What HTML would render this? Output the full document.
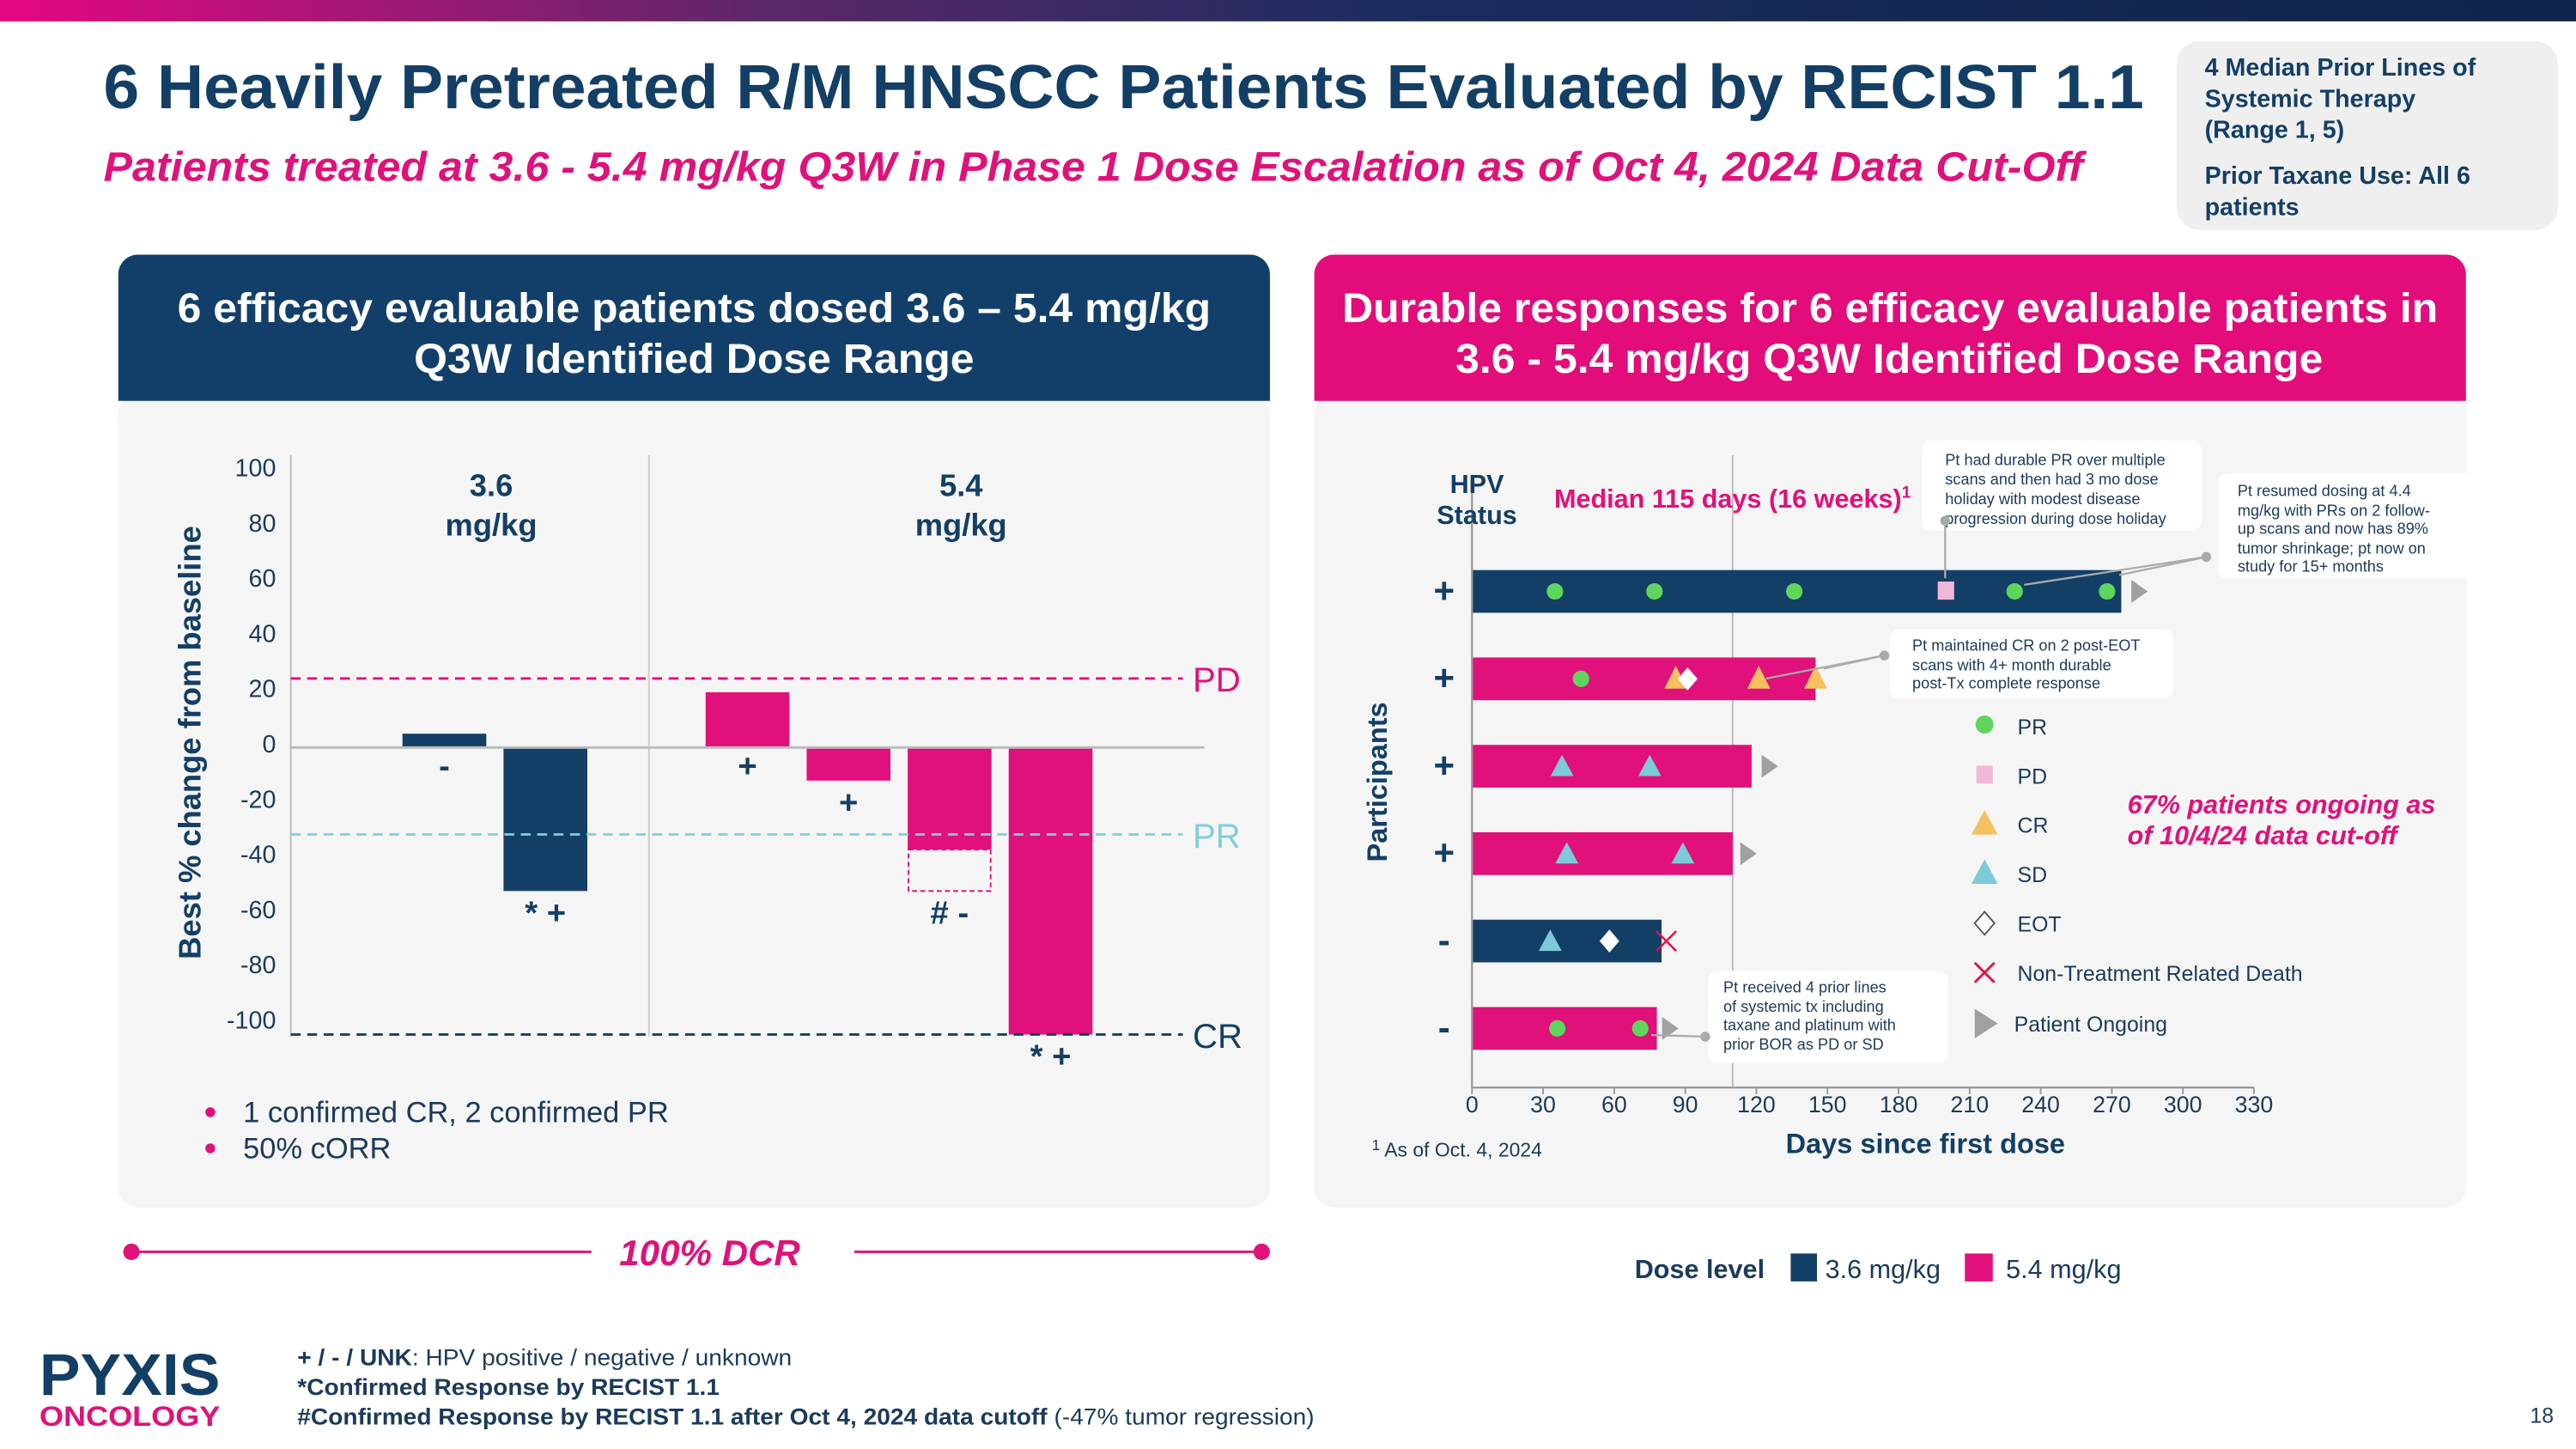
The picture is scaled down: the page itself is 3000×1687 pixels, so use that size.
<!DOCTYPE html>
<html><head><meta charset="utf-8"><style>
html,body{margin:0;padding:0;background:#fff;width:3000px;height:1687px;overflow:hidden}
svg{display:block}
text{font-family:"Liberation Sans",Arial,sans-serif}
</style></head><body>
<svg id="page" width="3000" height="1687" viewBox="0 0 1568 882" preserveAspectRatio="none" xmlns="http://www.w3.org/2000/svg">
<defs>
<linearGradient id="band" x1="0" x2="1" y1="0" y2="0"><stop offset="0" stop-color="#e5087e"/><stop offset="0.3" stop-color="#5a2868"/><stop offset="0.55" stop-color="#1a2c5e"/><stop offset="1" stop-color="#0e2448"/></linearGradient>
</defs>
<rect x="0" y="0" width="1568" height="13" fill="url(#band)"/>
<text x="63" y="66" font-size="38" font-weight="bold" fill="#133f66" textLength="1242" lengthAdjust="spacingAndGlyphs">6 Heavily Pretreated R/M HNSCC Patients Evaluated by RECIST 1.1</text>
<text x="63" y="110" font-size="25" font-weight="bold" font-style="italic" fill="#e0117a" textLength="1205" lengthAdjust="spacingAndGlyphs">Patients treated at 3.6 - 5.4 mg/kg Q3W in Phase 1 Dose Escalation as of Oct 4, 2024 Data Cut-Off</text>
<g>
<rect x="1325" y="25" width="232" height="115" rx="14" fill="#efefef"/>
<g font-size="15" font-weight="bold" fill="#133f66">
<text x="1342" y="46">4 Median Prior Lines of</text>
<text x="1342" y="65">Systemic Therapy</text>
<text x="1342" y="84">(Range 1, 5)</text>
<text x="1342" y="112">Prior Taxane Use: All 6</text>
<text x="1342" y="131">patients</text>
</g></g>

<!-- Left panel -->
<g>
<rect x="72" y="240" width="701" height="495" rx="12" fill="#f5f5f5"/>
<path d="M72,244 V167 a12,12 0 0 1 12,-12 H761 a12,12 0 0 1 12,12 V244 Z" fill="#123f6a"/>
<text x="108" y="196" font-size="25" font-weight="bold" fill="#fff" textLength="629" lengthAdjust="spacingAndGlyphs">6 efficacy evaluable patients dosed 3.6 – 5.4 mg/kg</text>
<text x="252" y="227" font-size="25" font-weight="bold" fill="#fff" textLength="341" lengthAdjust="spacingAndGlyphs">Q3W Identified Dose Range</text>
</g>
<g id="wf"></g>
<g font-size="18" fill="#1b3a5c">
<circle cx="128" cy="677" r="3" fill="#e0117a"/><text x="148" y="683">1 confirmed CR, 2 confirmed PR</text>
<circle cx="128" cy="699" r="3" fill="#e0117a"/><text x="148" y="705">50% cORR</text>
</g>
<g>
<line x1="80" y1="762" x2="360" y2="762" stroke="#e0117a" stroke-width="1.5"/>
<line x1="520" y1="762" x2="768" y2="762" stroke="#e0117a" stroke-width="1.5"/>
<circle cx="80" cy="762" r="5" fill="#e0117a"/><circle cx="768" cy="762" r="5" fill="#e0117a"/>
<text x="432" y="770" font-size="22" font-weight="bold" font-style="italic" fill="#e0117a" text-anchor="middle">100% DCR</text>
</g>

<!-- Right panel -->
<g>
<rect x="800" y="240" width="701" height="495" rx="12" fill="#f5f5f5"/>
<path d="M800,244 V167 a12,12 0 0 1 12,-12 H1489 a12,12 0 0 1 12,12 V244 Z" fill="#e20c7a"/>
<text x="817" y="196" font-size="25" font-weight="bold" fill="#fff" textLength="667" lengthAdjust="spacingAndGlyphs">Durable responses for 6 efficacy evaluable patients in</text>
<text x="886" y="227" font-size="25" font-weight="bold" fill="#fff" textLength="528" lengthAdjust="spacingAndGlyphs">3.6 - 5.4 mg/kg Q3W Identified Dose Range</text>
</g>
<g id="sw"></g>
<g font-size="9.5" fill="#1b3a5c">
<rect x="1170" y="268" width="170" height="55" rx="6" fill="#fff"/>
<text x="1184" y="283">Pt had durable PR over multiple</text><text x="1184" y="295">scans and then had 3 mo dose</text><text x="1184" y="307">holiday with modest disease</text><text x="1184" y="319">progression during dose holiday</text>
<line x1="1184" y1="317" x2="1184" y2="352" stroke="#aaa" stroke-width="1.2"/><circle cx="1184" cy="317" r="3" fill="#aaa"/>
<rect x="1350" y="288" width="218" height="64" rx="6" fill="#fff"/>
<text x="1362" y="302">Pt resumed dosing at 4.4</text><text x="1362" y="314">mg/kg with PRs on 2 follow-</text><text x="1362" y="325">up scans and now has 89%</text><text x="1362" y="337">tumor shrinkage; pt now on</text><text x="1362" y="348">study for 15+ months</text>
<line x1="1343" y1="339" x2="1232" y2="356" stroke="#aaa" stroke-width="1.2"/><line x1="1343" y1="339" x2="1290" y2="350" stroke="#aaa" stroke-width="1.2"/><circle cx="1343" cy="339" r="3" fill="#aaa"/>
<rect x="1150" y="383" width="173" height="42" rx="6" fill="#fff"/>
<text x="1164" y="396">Pt maintained CR on 2 post-EOT</text><text x="1164" y="408">scans with 4+ month durable</text><text x="1164" y="419">post-Tx complete response</text>
<line x1="1147" y1="399" x2="1075" y2="413" stroke="#aaa" stroke-width="1.2"/><line x1="1147" y1="399" x2="1110" y2="407" stroke="#aaa" stroke-width="1.2"/><circle cx="1147" cy="399" r="3" fill="#aaa"/>
<rect x="1040" y="591" width="146" height="56" rx="6" fill="#fff"/>
<text x="1049" y="604">Pt received 4 prior lines</text><text x="1049" y="616">of systemic tx including</text><text x="1049" y="627">taxane and platinum with</text><text x="1049" y="639">prior BOR as PD or SD</text>
<line x1="1038" y1="631" x2="1005" y2="630" stroke="#aaa" stroke-width="1.2"/><circle cx="1038" cy="631" r="3" fill="#aaa"/>
</g>
<g font-size="13" fill="#1b3a5c">
<circle cx="1208" cy="441" r="5.5" fill="#5ed65e"/><text x="1228" y="447">PR</text>
<rect x="1203" y="466" width="10" height="11" fill="#f0b8d8"/><text x="1228" y="477">PD</text>
<path d="M1208,493 L1216,508 L1200,508 Z" fill="#f4c060"/><text x="1228" y="507">CR</text>
<path d="M1208,523 L1216,538 L1200,538 Z" fill="#7ccbd8"/><text x="1228" y="537">SD</text>
<path d="M1208,555 L1214,562 L1208,569 L1202,562 Z" fill="#fff" stroke="#555" stroke-width="1"/><text x="1228" y="567">EOT</text>
<path d="M1202,586 L1214,598 M1214,586 L1202,598" stroke="#e0114a" stroke-width="1.5"/><text x="1228" y="597">Non-Treatment Related Death</text>
<path d="M1202,614 L1216,623 L1202,632 Z" fill="#a0a0a0"/><text x="1226" y="628">Patient Ongoing</text>
</g>
<g font-size="16" font-weight="bold" font-style="italic" fill="#e0117a">
<text x="1295" y="495">67% patients ongoing as</text><text x="1295" y="514">of 10/4/24 data cut-off</text>
</g>
<text x="835" y="704" font-size="12" fill="#1b3a5c"><tspan font-size="9" dy="-4">1</tspan><tspan dy="4"> As of Oct. 4, 2024</tspan></text>
<g font-size="16" fill="#1b3a5c">
<text x="995" y="778" font-weight="bold">Dose level</text>
<rect x="1090" y="763" width="16" height="17" fill="#133f66"/><text x="1111" y="778">3.6 mg/kg</text>
<rect x="1196" y="763" width="17" height="17" fill="#e0117a"/><text x="1221" y="778">5.4 mg/kg</text>
</g>
<g>
<text x="24" y="849" font-size="36" font-weight="bold" fill="#133f66" textLength="110" lengthAdjust="spacingAndGlyphs">PYXIS</text>
<text x="24" y="868" font-size="17" font-weight="bold" fill="#e0117a" textLength="110" lengthAdjust="spacingAndGlyphs">ONCOLOGY</text>
</g>
<g font-size="14" fill="#1b3a5c">
<text x="181" y="831" textLength="301" lengthAdjust="spacingAndGlyphs"><tspan font-weight="bold">+ / - / UNK</tspan>: HPV positive / negative / unknown</text>
<text x="181" y="849" font-weight="bold" textLength="257" lengthAdjust="spacingAndGlyphs">*Confirmed Response by RECIST 1.1</text>
<text x="181" y="867" textLength="619" lengthAdjust="spacingAndGlyphs"><tspan font-weight="bold">#Confirmed Response by RECIST 1.1 after Oct 4, 2024 data cutoff</tspan> (-47% tumor regression)</text>
</g>
<text x="1540" y="866" font-size="13" fill="#1b3a5c">18</text>
</svg>
<script>
// ---- Waterfall data ----
const wfSlots = [0, 1, 3, 4, 5, 6];
const wfValues = [5, -52, 20, -12, -37, -104];
const wfPost = [null, null, null, null, -52, null];
const wfDose = ['3.6', '3.6', '5.4', '5.4', '5.4', '5.4'];
const wfMarks = ['-', '* +', '+', '+', '# -', '* +'];
const wfTicks = [100, 80, 60, 40, 20, 0, -20, -40, -60, -80, -100];
const wfThreshVals = [25, -31.5, -104];
const wfThreshLabels = ['PD', 'PR', 'CR'];

// ---- Swimmer data ----
const swDuration = [274, 145, 118, 110, 80, 78];
const swDose = ['3.6', '5.4', '5.4', '5.4', '3.6', '5.4'];
const swHPV = ['+', '+', '+', '+', '-', '-'];
const swPR = [[35, 77, 136, 229, 268], [46], [], [], [], [36, 71]];
const swPD = [[200], [], [], [], [], []];
const swCR = [[], [86, 121, 145], [], [], [], []];
const swSD = [[], [], [38, 75], [40, 89], [33], []];
const swEOT = [[], [91], [], [], [58], []];
const swDeath = [[], [], [], [], [82], []];
const swOngoing = [[281], [], [125], [116], [], [83]];
const swTicks = [0, 30, 60, 90, 120, 150, 180, 210, 240, 270, 300, 330];
const swMedian = [110];

const NS = 'http://www.w3.org/2000/svg';
const NAVY = '#133f66', PINK = '#e0117a';
function mk(parent, tag, attrs, txt) {
  const e = document.createElementNS(NS, tag);
  for (const k in attrs) e.setAttribute(k, attrs[k]);
  if (txt !== undefined) e.textContent = txt;
  parent.appendChild(e);
  return e;
}
// Waterfall axes
const wf = document.getElementById('wf');
const wy = v => 455 - v * 1.68;
const wx = s => 245 + s * 61.5;
const barW = 51;
mk(wf, 'line', {x1: 177, y1: 277, x2: 177, y2: 631, stroke: '#bbb', 'stroke-width': 1});
mk(wf, 'line', {x1: 395, y1: 277, x2: 395, y2: 631, stroke: '#ccc', 'stroke-width': 1});
wfTicks.forEach(t => {
  const e = mk(wf, 'text', {x: 168, y: wy(t) + 3, 'font-size': 15, fill: '#1b3a5c', 'text-anchor': 'end'}, String(t));
  
  
});
const yt = mk(wf, 'text', {x: 0, y: 0, 'font-size': 19, 'font-weight': 'bold', fill: NAVY, 'text-anchor': 'middle', transform: 'translate(122,452) rotate(-90)'}, 'Best % change from baseline');


[['3.6', 299], ['5.4', 585]].forEach(([d, x]) => {
  const g = mk(wf, 'text', {x: x, y: 302, 'font-size': 19, 'font-weight': 'bold', fill: NAVY, 'text-anchor': 'middle'}, d);
  
  
  mk(wf, 'text', {x: x, y: 326, 'font-size': 19, 'font-weight': 'bold', fill: NAVY, 'text-anchor': 'middle'}, 'mg/kg');
});
wfValues.forEach((v, i) => {
  const x = wx(wfSlots[i]);
  const y0 = wy(Math.max(v, 0)), y1 = wy(Math.min(v, 0));
  const b = mk(wf, 'rect', {x: x, y: y0, width: barW, height: y1 - y0, fill: wfDose[i] === '3.6' ? NAVY : PINK});
  
  
  if (wfPost[i] !== null) {
    const d = mk(wf, 'rect', {x: x + 0.5, y: wy(v), width: barW - 1, height: wy(wfPost[i]) - wy(v), fill: 'none', stroke: PINK, 'stroke-width': 1, 'stroke-dasharray': '3,2'});
    
    
  }
  const low = wfPost[i] !== null ? Math.min(v, wfPost[i]) : v;
  const ly = v > 0 ? wy(0) + 18 : wy(low) + 20;
  const m = mk(wf, 'text', {x: x + barW / 2, y: ly, 'font-size': 20, 'font-weight': 'bold', fill: NAVY, 'text-anchor': 'middle'}, wfMarks[i]);
  
  
});
mk(wf, 'line', {x1: 177, y1: wy(0), x2: 733, y2: wy(0), stroke: '#bbb', 'stroke-width': 1.5});
const thColors = [PINK, '#7fcfdc', NAVY];
wfThreshVals.forEach((v, i) => {
  const l = mk(wf, 'line', {x1: 177, y1: wy(v), x2: 720, y2: wy(v), stroke: thColors[i], 'stroke-width': 1.5, 'stroke-dasharray': '6,4'});
  
  
  const t = mk(wf, 'text', {x: 726, y: wy(v) + 8, 'font-size': 21, fill: thColors[i]}, wfThreshLabels[i]);
  
  
});

// Swimmer
const sw = document.getElementById('sw');
const sx = d => 896 + d * (476 / 330);
const sy = i => 360 + i * 53.2;
const bh = 26;
mk(sw, 'line', {x1: sx(swMedian[0]), y1: 277, x2: sx(swMedian[0]), y2: 662, stroke: '#bbb', 'stroke-width': 1});
swDuration.forEach((d, i) => {
  const b = mk(sw, 'rect', {x: sx(0), y: sy(i) - bh / 2, width: sx(d) - sx(0), height: bh, fill: swDose[i] === '3.6' ? NAVY : PINK});
  
  
  const h = mk(sw, 'text', {x: 879, y: sy(i) + 7, 'font-size': 22, 'font-weight': 'bold', fill: NAVY, 'text-anchor': 'middle'}, swHPV[i]);
  
  
});
mk(sw, 'line', {x1: 896, y1: 290, x2: 896, y2: 662, stroke: '#999', 'stroke-width': 1.2});
mk(sw, 'line', {x1: 896, y1: 662, x2: 1372, y2: 662, stroke: '#999', 'stroke-width': 1.2});
swTicks.forEach(t => {
  mk(sw, 'line', {x1: sx(t), y1: 662, x2: sx(t), y2: 666, stroke: '#999', 'stroke-width': 1});
  const e = mk(sw, 'text', {x: sx(t), y: 677, 'font-size': 14, fill: '#1b3a5c', 'text-anchor': 'middle'}, String(t));
  
  
});
function marks(arr, fn, name) {
  arr.forEach((row, i) => row.forEach(d => {
    const e = fn(sx(d), sy(i));
    
    
  }));
}
marks(swPR, (x, y) => mk(sw, 'circle', {cx: x, cy: y, r: 5, fill: '#5ed65e'}), 'marker-pr');
marks(swPD, (x, y) => mk(sw, 'rect', {x: x - 5, y: y - 6, width: 10, height: 11, fill: '#f0b8d8'}), 'marker-pd');
marks(swCR, (x, y) => mk(sw, 'path', {d: `M${x},${y - 8} L${x + 7},${y + 6} L${x - 7},${y + 6} Z`, fill: '#f4c060'}), 'marker-cr');
marks(swSD, (x, y) => mk(sw, 'path', {d: `M${x},${y - 7} L${x + 7},${y + 6} L${x - 7},${y + 6} Z`, fill: '#7ccbd8'}), 'marker-sd');
marks(swEOT, (x, y) => mk(sw, 'path', {d: `M${x},${y - 7} L${x + 6},${y} L${x},${y + 7} L${x - 6},${y} Z`, fill: '#fff'}), 'marker-eot');
marks(swDeath, (x, y) => mk(sw, 'path', {d: `M${x - 6},${y - 6} L${x + 6},${y + 6} M${x + 6},${y - 6} L${x - 6},${y + 6}`, stroke: '#e0114a', 'stroke-width': 1.3}), 'marker-death');
marks(swOngoing, (x, y) => mk(sw, 'path', {d: `M${x - 4},${y - 7} L${x + 6},${y} L${x - 4},${y + 7} Z`, fill: '#a0a0a0'}), 'marker-ongoing');
const lbl = [['HPV', 899, 300, 16, NAVY, 'middle'], ['Status', 899, 319, 16, NAVY, 'middle']];
lbl.forEach(([t, x, y, fs, c, a]) => {
  const e = mk(sw, 'text', {x: x, y: y, 'font-size': fs, 'font-weight': 'bold', fill: c, 'text-anchor': a}, t);
  
  
});
const med = mk(sw, 'text', {x: 946, y: 309, 'font-size': 16, 'font-weight': 'bold', fill: PINK}, 'Median 115 days (16 weeks)');


mk(med, 'tspan', {'font-size': 10, dy: -6}, '1');
const pt = mk(sw, 'text', {x: 0, y: 0, 'font-size': 17, 'font-weight': 'bold', fill: NAVY, 'text-anchor': 'middle', transform: 'translate(844,476) rotate(-90)'}, 'Participants');


const xt = mk(sw, 'text', {x: 1172, y: 702, 'font-size': 17, 'font-weight': 'bold', fill: NAVY, 'text-anchor': 'middle'}, 'Days since first dose');


</script>
</body></html>
